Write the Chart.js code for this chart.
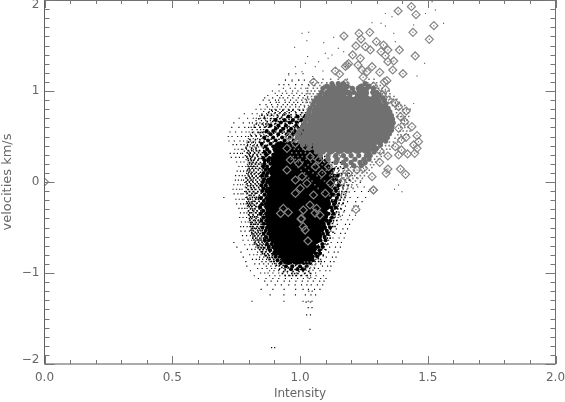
<!DOCTYPE html>
<html><head><meta charset="utf-8">
<style>html,body{margin:0;padding:0;background:#fff}canvas{display:block}</style>
<script src="https://cdn.jsdelivr.net/npm/chart.js@4"></script></head>
<body><canvas id="c" width="565" height="402"></canvas>
<script>
const xTickLabels=['0.0','0.5','1.0','1.5','2.0'];
const yTickLabels=['\u22122','\u22121','0','1','2'];
const xMajor=[0,.5,1,1.5,2];
const xMinor=[.1,.2,.3,.4,.6,.7,.8,.9,1.1,1.2,1.3,1.4,1.6,1.7,1.8,1.9];
const yMajor=[-2,-1,0,1,2];
const yMinor=[-1.9,-1.8,-1.7,-1.6,-1.5,-1.4,-1.3,-1.2,-1.1,-.9,-.8,-.7,-.6,-.5,-.4,-.3,-.2,-.1,.1,.2,.3,.4,.5,.6,.7,.8,.9,1.1,1.2,1.3,1.4,1.5,1.6,1.7,1.8,1.9];
// each row: velocity, then the intensities read at that velocity
const blackCoreRows=[
[.36,.925,.965,1.005,1.045],
[.24,.915,.955,.995,1.035,1.06],
[.12,.91,.95,.99,1.03,1.07,1.09],
[0,.905,.945,.985,1.025,1.065,1.105],
[-.12,.9,.94,.98,1.02,1.06,1.1],
[-.24,.895,.935,.975,1.015,1.055,1.09],
[-.36,.895,.935,.975,1.015,1.055,1.08],
[-.48,.9,.94,.98,1.02,1.06,1.07],
[-.6,.91,.95,.99,1.03,1.055],
[-.72,.925,.965,1.005,1.035],
[-.82,.955,.99,1.02]];
const blackMidRows=[
[.72,.955,.99,1.02],[.68,.905,.94,.972,1.005],[.655,.925,.96,.988,1.02],[.62,.885,.915,.945,.985,1.01],
[.585,.905,.935,.965,.998],[.56,.87,.895,.925,.955,.98,1.012],[.525,.885,.915,.948,.972,1.0],[.49,.86,.895,.93,.96,.99,1.018],
[.455,.875,.905,.94,.975],[.42,.85,.885,.915,.95],[.39,.865,.895],[.36,.872,.9],[.33,.881,.862],[.30,.868,.895],
[.265,.857,.88,1.082],[.235,.876,.862,1.1],[.2,.861,.884,1.088,1.105],[.17,.871,.856,1.112],[.135,.879,.865,1.118,1.129],[.1,.858,.874,1.124],
[.07,.868,.851,1.135,1.148],[.03,.876,.859,1.142],[0,.855,.871,1.128,1.153],[-.035,.866,.849,1.15],[-.07,.873,.858,1.137,1.146],[-.1,.852,.868,1.141],
[-.14,.861,.876,1.132,1.15],[-.175,.847,.869,1.144],[-.21,.873,.858,1.128,1.139],[-.245,.851,.866,1.133],[-.28,.869,.844,1.122,1.14],[-.315,.856,.873,1.126],
[-.35,.846,.867,1.112,1.131],[-.39,.871,.857,1.125],[-.425,.849,.868,1.105,1.118],[-.46,.874,.859,1.112],[-.5,.853,.871,1.098,1.118],[-.535,.866,.881,1.105],
[-.57,.858,.877,1.09,1.108],[-.605,.884,.867,1.096],[-.64,.862,.878,1.08,1.1],[-.68,.889,.871,1.087],[-.715,.878,.896,1.07,1.088],[-.75,.883,.905,1.076],
[-.785,.898,.912,.925,1.062,1.078],[-.82,.905,.922,.94,1.05,1.067],[-.86,.912,.935,.958,1.035,1.05],[-.89,.925,.955,.985,1.015,1.04],[-.925,.945,.97,1.0,1.026],[-.96,.965,.99,1.012]];
const blackDenseRows=[
[.79,.889,.906,.933,.957,.972,.998,1.013],[.76,.877,.903,.922,.941,.958,.984,1.006,1.022],[.74,.94,.965,.985,1.002,1.018],[.71,.861,.912,.928,.949,.966,.981,.995,1.012],[.69,.933,.957,.976,.993,1.01],
[.665,.872,.893,.915,.934,.949,.967,.981,.999,1.015],[.645,.905,.925,.942,.97,.991,1.007],[.61,.867,.885,.902,.921,.94,.957,.974,.993,1.005],[.595,.915,.93,.95,.979,.992,1.012],[.55,.859,.88,.905,.92,.938,.962,.97,.99],
[.535,.875,.897,.931,.955,.98,1.005],[.5,.875,.912,.945,.972,1.004],[.47,.866,.887,.918,.951,.983,1.01],[.44,.895,.925,.96,.99,1.015],[.405,.873,.905,.93,.96],
[.345,.842,.811,.858,.829,.874,.797],[.322,.853,.805,.838,.822,.869,.793],[.303,.817,.846,.801,.861,.832,.877],[.281,.835,.792,.866,.814,.851,.805],[.258,.807,.848,.824,.871,.796,.839],[.239,.856,.819,.798,.867,.835,.81],
[.214,.829,.803,.874,.845,.816,.859],[.197,.811,.862,.838,.802,.851,.825],[.173,.849,.819,.868,.808,.833,.797],[.151,.826,.856,.801,.841,.873,.814],[.131,.804,.837,.864,.819,.795,.852],[.108,.846,.812,.829,.872,.8,.858],
[.087,.821,.797,.852,.837,.809,.868],[.064,.842,.813,.875,.801,.858,.828],[.044,.806,.834,.791,.863,.818,.849],[.021,.853,.827,.796,.842,.87,.811],[.003,.815,.789,.859,.833,.802,.848],[-.019,.838,.807,.868,.824,.793,.855],
[-.041,.796,.845,.817,.862,.831,.806],[-.063,.851,.821,.79,.873,.838,.809],[-.082,.813,.842,.798,.866,.827,.856],[-.106,.835,.803,.853,.819,.789,.87],[-.124,.848,.812,.831,.794,.864,.825],[-.147,.801,.857,.82,.841,.872,.808],
[-.169,.829,.792,.852,.814,.869,.838],[-.188,.847,.805,.826,.861,.796,.837],[-.211,.816,.855,.799,.84,.871,.823],[-.232,.803,.832,.864,.812,.849,.794],[-.254,.842,.821,.807,.873,.855,.798],[-.273,.811,.861,.828,.837,.801,.847],
[-.296,.851,.806,.824,.868,.815,.84],[-.318,.833,.798,.859,.819,.847,.873],[-.337,.809,.841,.826,.866,.803,.853],[-.359,.857,.816,.835,.799,.871,.844],[-.382,.823,.806,.852,.862,.831,.814],[-.401,.846,.811,.873,.828,.802,.858],
[-.424,.818,.836,.804,.864,.849,.825],[-.446,.855,.813,.829,.871,.806,.842],[-.465,.826,.848,.809,.865,.818,.836],[-.488,.807,.858,.832,.875,.815,.845],[-.509,.839,.821,.813,.867,.853,.829],[-.531,.852,.816,.844,.808,.877,.834],
[-.553,.825,.865,.811,.837,.853,.879],[-.572,.842,.819,.871,.831,.858,.812],[-.594,.816,.849,.835,.881,.823,.862],[-.617,.857,.827,.843,.872,.815,.886],[-.637,.833,.866,.82,.848,.879,.839],[-.659,.851,.825,.871,.838,.889,.862],
[-.681,.829,.856,.884,.843,.869,.822],[-.701,.866,.839,.88,.852,.894,.833],[-.724,.848,.874,.862,.836,.891,.857],[-.745,.869,.843,.886,.855,.902,.877],[-.766,.853,.881,.867,.912,.896,.848],[-.788,.874,.861,.905,.889,.853,.918],
[-.809,.892,.868,.921,.879,.907,.864],[-.832,.881,.903,.873,.928,.916,.893],[-.853,.897,.879,.936,.912,.948,.924],[-.874,.909,.888,.926,.957,.941,.899],[-.895,.901,.938,.963,.918,.976,.951],[-.917,.92,.947,.908,.983,.966,.934],
[-.939,.929,.955,.991,.972,.943,1.007],[-.961,.942,.919,.981,1.003,.965,1.021],[-.983,.951,.973,1.012,.936,.996,1.034],[-1.005,.968,.931,.992,1.018,.979,1.042],[-1.028,.957,.986,1.006,1.028,.971,.942],
[.345,1.062,1.071],[.281,1.083,1.097,1.112],[.214,1.112,1.126,1.141,1.159],[.151,1.135,1.149,1.171],[.087,1.153,1.164,1.184],[.021,1.158,1.175,1.193],[-.041,1.157,1.171,1.188],[-.106,1.153,1.164,1.182],[-.169,1.148,1.162,1.176],[-.232,1.142,1.153,1.169],
[-.296,1.136,1.148,1.161],[-.359,1.124,1.137,1.152],[-.424,1.119,1.131,1.144],[-.488,1.113,1.128,1.137],[-.553,1.103,1.114,1.129],[-.617,1.094,1.107,1.118],[-.681,1.086,1.098,1.109],[-.745,1.074,1.085,1.101],[-.809,1.063,1.074,1.091],[-.874,1.047,1.059,1.073,1.083],
[-.065,1.148,1.168],[-.138,1.146,1.171],[-.201,1.139,1.157],[-.264,1.131,1.149],[-.327,1.128,1.143],[-.392,1.118,1.134],[-.456,1.109,1.127],[-.521,1.101,1.119],[-.585,1.096,1.112],[-.649,1.084,1.103],[-.713,1.076,1.094],[-.777,1.068,1.083],[-.842,1.052,1.072],
[.735,.851,.873,.889,.911,.933],[.695,.839,.863,.885,.898,.921],[.637,.829,.852,.877,.866,.901],[.602,.821,.843,.861,.879],[.543,.814,.836,.853,.866,.844],[.508,.809,.828,.847,.868],[.467,.804,.826,.843,.861],[.438,.799,.817,.841,.859],[.398,.794,.816,.832,.849],[.372,.789,.811,.828,.857]];
const blackFineRows=[
[1.19,.956,.984,1.012],[1.12,.943,.969,.995,1.017],[1.07,.918,.937,.956,.983,1.008,1.033],[1.03,.935,.962,.981,1.004,1.023],
[1.0,.892,.918,.944,.971,.992,1.028],[.975,.903,.931,.948,.969,.987,1.008,1.031],[.95,.874,.911,.927,.957,.976,.999,1.018],[.925,.862,.893,.921,.934,.952,.972,.993,1.012,1.029],
[.9,.856,.879,.904,.916,.941,.963,.985,1.007,1.026],[.875,.884,.907,.918,.942,.958,.976,.991,1.011,1.028],[.85,.843,.867,.889,.913,.934,.951,.969,.983,1.003],[.825,.872,.893,.911,.927,.944,.961,.983,.997,1.018],
[.8,.828,.847,.863,.881,.902,.921,.937,.954,.974,.992],[.775,.858,.879,.892,.914,.928,.949,.966,.981],[.75,.782,.813,.832,.851,.869,.887,.899,.918,.936,.946],[.725,.842,.861,.883,.897,.916,.931],
[.7,.762,.795,.817,.829,.846,.857,.872,.889,.908,.924],[.675,.828,.849,.866,.884,.897],[.65,.741,.778,.802,.814,.831,.843,.856,.871,.887],[.625,.821,.838,.857,.871],
[.6,.733,.761,.784,.799,.809,.826,.844,.863,.876],[.575,.813,.832,.846,.858],[.55,.726,.748,.772,.789,.801,.819,.836,.851,.867],[.525,.806,.824,.843,.858],
[.5,.719,.734,.756,.771,.787,.798,.812,.829,.846],[.475,.798,.817,.834,.851],[.45,.722,.743,.765,.779,.793,.807,.824,.843,.859],[.43,.793,.811,.826,.847],
[.41,.738,.752,.769,.781,.795,.806,.821,.833],[.385,.788,.804,.823,.838,.852],[.36,.745,.758,.771,.776,.791,.809,.818,.827],[.34,.782,.801,.818,.836],
[.315,.727,.742,.755,.768,.775,.797,.806,.823],[.29,.786,.803,.815,.832],[.27,.731,.749,.763,.777,.792,.811,.824],[.245,.789,.806,.822,.838],
[.22,.752,.768,.781,.797,.809,.817,.831,1.152,1.171],[.195,.794,.812,.827,.843,1.138,1.162,1.185],[.17,.761,.774,.788,.801,.813,.824,1.142,1.158,1.179,1.203],[.145,.797,.811,.831,.846,1.147,1.166,1.188],
[.12,.754,.767,.779,.792,.804,.819,1.151,1.169,1.183,1.211],[.095,.791,.808,.824,.841,1.161,1.176,1.193],[.07,.748,.762,.774,.785,.797,.813,.829,1.148,1.163,1.186,1.204],[.045,.787,.803,.821,.836,1.172,1.191,1.222],
[.02,.747,.759,.771,.779,.794,.806,.817,1.143,1.161,1.179,1.196],[-.005,.784,.802,.817,.833,1.183,1.207,1.236],[-.03,.741,.756,.767,.776,.789,.811,.827,1.139,1.157,1.172,1.191],[-.055,.786,.806,.819,.838,1.166,1.201,1.226,1.251],
[-.08,.738,.752,.764,.773,.795,.809,.823,1.133,1.152,1.169,1.184],[-.105,.783,.801,.816,.834,1.178,1.214,1.241,1.268],[-.13,.742,.757,.769,.777,.792,.812,.825,1.128,1.149,1.163,1.179],[-.17,.702,.788,.804,.822,.837,1.196,1.226,1.257],
[-.19,.749,.762,.774,.781,.796,.813,.828,1.122,1.141,1.158,1.171],[-.215,.791,.809,.824,.841,1.186,1.218,1.243],[-.24,.752,.768,.779,.789,.801,.816,.829,1.117,1.136,1.152,1.168],[-.265,.794,.813,.827,.839,1.178,1.211,1.228],
[-.29,.761,.773,.784,.793,.808,.823,1.113,1.129,1.147,1.159],[-.315,.799,.814,.831,.846,1.174,1.204,1.231],[-.34,.767,.781,.792,.803,.816,.829,1.109,1.126,1.141,1.153],[-.365,.802,.818,.834,.849,1.166,1.194,1.217],
[-.39,.764,.777,.791,.806,.821,.836,1.104,1.121,1.137,1.149],[-.415,.804,.821,.837,.852,1.161,1.187,1.206],[-.44,.771,.786,.797,.811,.824,.839,1.102,1.117,1.131],[-.465,.807,.823,.836,.854,1.146,1.178,1.194],
[-.49,.768,.779,.793,.804,.817,.834,.849,1.097,1.113,1.128],[-.515,.809,.826,.842,.856,1.142,1.168,1.186],[-.54,.769,.785,.802,.819,.836,.847,1.091,1.108,1.121],[-.565,.813,.829,.846,.861,1.136,1.159,1.177],
[-.59,.775,.791,.806,.823,.838,.851,1.084,1.102,1.117],[-.615,.816,.833,.849,.864,1.129,1.153,1.173],[-.64,.777,.797,.811,.827,.844,.857,1.079,1.097,1.112],[-.665,.741,.821,.838,.853,.869,1.122,1.147,1.162],
[-.69,.784,.803,.816,.834,.849,.862,1.072,1.089,1.104],[-.715,.753,.827,.844,.858,.874,1.116,1.139,1.158],[-.74,.794,.811,.824,.841,.856,.87,1.064,1.081,1.097],[-.77,.769,.834,.851,.864,.881,1.112,1.134,1.149],
[-.8,.803,.819,.832,.847,.861,.877,1.058,1.073,1.091],[-.825,.778,.842,.858,.873,.889,1.103,1.127,1.141],[-.85,.814,.829,.841,.854,.869,.884,.897,1.046,1.062,1.081],[-.875,.788,.851,.867,.883,.896,1.096,1.119,1.133],
[-.9,.823,.841,.858,.876,.892,.907,.923,1.028,1.043,1.062,1.081],[-.925,.792,.868,.886,.904,.918,1.088,1.108,1.121],[-.95,.834,.852,.871,.889,.902,.921,.937,.953,1.006,1.021,1.038,1.057,1.072],[-.975,.806,.881,.898,.916,.942,1.078,1.101,1.117],
[-1.0,.846,.862,.875,.894,.917,.934,.951,.969,.987,1.021,1.038,1.061],[-1.03,.821,.881,.902,.921,.942,.961,.983,1.002,1.024,1.041,1.063,1.092],[-1.06,.837,.867,.894,.917,.943,.967,.991,1.013,1.036,1.059,1.081,1.102],[-1.09,.862,.887,.912,.938,.959,.984,1.009,1.031,1.052,1.077,1.094],
[-1.13,.872,.903,.927,.956,.981,1.006,1.027,1.044,1.068,1.089],[-1.18,.848,.894,.938,.983,1.012,1.033,1.057,1.078],[-1.24,.883,.937,.982,1.021,1.043,1.061],[-1.31,.812,.937,1.012,1.032,1.047],
[-1.38,1.032,1.047],[-1.46,1.026,1.041],[-1.62,1.039],[-1.82,.889,.901]];
const blackOutliers=[[1.008,1.634],[1.034,1.645],[1.027,1.553],[.979,1.48],[1.093,1.531],[1.132,1.59],[1.099,1.414],[1.125,1.396],[1.073,1.322],[1.171,1.432],[1.06,1.267],[1.021,1.304],[.982,1.267],[1.008,1.212],[.956,1.176],[.969,1.103],[.995,1.121],[.943,1.121],[1.334,1.853],[1.36,1.817],[1.282,1.751],[1.317,1.744],[1.334,1.714],[1.367,1.634],[1.373,1.542],[1.445,1.725],[1.491,1.853],[1.53,1.89],[1.562,1.744],[1.517,1.982],[1.488,1.304],[1.458,1.165],[1.445,.864],[1.37,-.08],[1.399,-.106],[1.386,-.033],[1.11,1.36],[1.14,1.25],[1.09,1.22],[1.05,1.16],[1.03,1.38],[1.15,1.47]];
const grayCoreRows=[
[.98,1.125,1.16,1.245],
[.88,1.085,1.12,1.155,1.19,1.225,1.26,1.29],
[.78,1.07,1.105,1.14,1.175,1.21,1.245,1.28,1.31],
[.68,1.055,1.09,1.125,1.16,1.195,1.23,1.265,1.3,1.33],
[.58,1.04,1.075,1.11,1.145,1.18,1.215,1.25,1.285,1.32],
[.48,1.03,1.065,1.1,1.135,1.17,1.205,1.24,1.275,1.305],
[.38,1.085,1.12,1.155,1.19,1.225,1.26]];
const grayMidRows=[
[1.08,1.125,1.15,1.17,1.255],[1.055,1.105,1.13,1.16,1.185,1.24,1.27],[1.03,1.09,1.115,1.145,1.178,1.205,1.228,1.262,1.287],[.985,1.085,1.105,1.19,1.21,1.285,1.3],[.955,1.078,1.1,1.195,1.225,1.29,1.31],[.925,1.065,1.09,1.125,1.305,1.325],
[.89,1.055,1.075,1.31,1.33],[.85,1.05,1.07,1.315,1.335],[.81,1.04,1.062,1.33,1.345],[.77,1.035,1.055,1.335,1.352],[.73,1.03,1.048,1.34,1.358],[.69,1.025,1.042,1.35,1.362],
[.65,1.02,1.04,1.35,1.365],[.61,1.012,1.03,1.345,1.36],[.57,1.0,1.024,1.34,1.358],[.53,.995,1.016,1.335,1.35],[.49,.99,1.01,1.325,1.342],[.45,1.002,1.02,1.315,1.335],
[.41,1.01,1.04,1.06,1.29,1.315],[.37,1.035,1.06,1.285,1.3],[.33,1.065,1.09,1.12,1.27,1.29],[.29,1.08,1.11,1.14,1.17,1.2,1.23,1.26,1.275],[.25,1.11,1.145,1.18,1.215,1.25,1.27],[.215,1.14,1.17,1.2,1.235,1.255],[.18,1.18,1.21,1.24]];
const graySpeckRows=[
[1.13,1.055,1.09,1.12,1.15,1.185,1.27,1.29],[1.09,1.048,1.072,1.085,1.105,1.125,1.145,1.165,1.185,1.25,1.265,1.285,1.3],[1.06,1.035,1.058,1.078,1.094,1.113,1.131,1.152,1.172,1.229,1.246,1.272,1.295,1.314],
[1.03,1.03,1.052,1.068,1.084,1.101,1.117,1.134,1.151,1.168,1.182,1.226,1.242,1.258,1.274,1.291,1.308,1.322],[1.0,1.03,1.044,1.058,1.074,1.09,1.287,1.302,1.318,1.334,1.349],[.97,1.025,1.039,1.052,1.067,1.305,1.322,1.337,1.352],
[.94,1.03,1.045,1.057,1.322,1.338,1.352,1.368],[.91,1.021,1.034,1.046,1.338,1.351,1.365,1.379],[.875,1.024,1.039,1.345,1.356,1.373,1.389],[.84,1.017,1.033,1.362,1.379,1.395,1.41],[.8,1.012,1.028,1.374,1.389,1.403,1.418,1.431],[.76,1.01,1.024,1.378,1.393,1.408,1.424],
[.72,1.006,1.021,1.383,1.398,1.412,1.426],[.68,.997,1.014,1.396,1.408,1.419],[.64,.992,1.007,1.394,1.407,1.421],[.6,.986,1.003,1.395,1.41,1.423],[.56,.974,.989,1.392,1.404,1.418,1.431],[.52,.962,.978,.982,1.383,1.395,1.41,1.424],
[.48,.958,.971,.983,1.372,1.388,1.401],[.44,.951,.966,.979,.993,1.35,1.366,1.382],[.4,.956,.972,.987,1.003,1.014,1.025,1.335,1.349,1.364],[.36,.961,.978,.994,1.012,1.029,1.046,1.321,1.339,1.352],
[.32,.968,.986,1.003,1.021,1.038,1.057,1.312,1.328],[.28,.974,.992,1.009,1.026,1.047,1.069,1.087,1.301,1.318],[.25,.966,.982,1.001,1.024,1.053,1.078,1.102,1.292,1.307],[.22,.978,.993,1.012,1.043,1.071,1.096,1.117,1.282,1.296],
[.19,.985,1.006,1.032,1.058,1.087,1.124,1.276,1.289],[.16,.993,1.021,1.046,1.076,1.112,1.138,1.159,1.176,1.198,1.217,1.237,1.259,1.281],[.13,1.004,1.034,1.063,1.103,1.131,1.153,1.174,1.191,1.213,1.232,1.253,1.271],
[.1,1.018,1.051,1.088,1.124,1.146,1.168,1.187,1.203,1.224,1.243,1.262],[.07,1.026,1.067,1.116,1.137,1.161,1.179,1.196,1.214,1.236,1.252],[.04,1.034,1.082,1.124,1.145,1.166,1.184,1.207,1.226,1.244],[.01,1.047,1.096,1.138,1.159,1.176,1.198,1.217,1.237],
[-.03,1.058,1.112,1.141,1.162,1.184,1.203,1.222],[-.07,1.071,1.124,1.146,1.168,1.187,1.208],[-.11,1.091,1.129,1.153,1.173,1.193],[-.15,1.116,1.137,1.161,1.179],[-.2,1.13,1.151,1.172],[-.25,1.146,1.163],[-.33,1.152,1.171],[-.38,1.138,1.158],
[-.88,1.018,1.03,1.044],[-.91,1.021,1.034,1.047,1.059],[-.94,1.015,1.028,1.041,1.056],[-.97,1.024,1.037,1.051],[-1.05,1.03,1.042],[-1.2,1.034,1.048],[-1.32,1.024,1.041]];
const diamonds=[[0,0],[1.436,1.927],[1.384,1.879],[1.454,1.839],[1.524,1.718],[1.442,1.645],[1.172,1.604],[1.231,1.634],[1.273,1.645],[1.506,1.568],[1.239,1.571],[1.299,1.542],[1.219,1.495],[1.256,1.487],[1.275,1.451],[1.327,1.505],[1.344,1.451],[1.389,1.451],[1.317,1.432],[1.451,1.385],[1.206,1.396],[1.236,1.359],[1.334,1.388],[1.344,1.322],[1.367,1.33],[1.184,1.286],[1.19,1.3],[1.178,1.27],[1.227,1.286],[1.282,1.267],[1.363,1.231],[1.262,1.212],[1.312,1.205],[1.403,1.19],[1.138,1.22],[1.155,1.187],[1.243,1.231],[1.247,1.15],[1.34,1.114],[1.33,1.1],[1.053,1.099],[1.177,1.084],[1.197,1.011],[1.288,1.055],[1.334,1.018],[1.301,.993],[1.321,.956],[1.347,.901],[1.373,.864],[1.386,.828],[1.416,.78],[1.393,.718],[1.41,.663],[1.438,.608],[1.386,.59],[1.458,.509],[1.415,.491],[1.397,.462],[1.464,.443],[1.445,.407],[1.458,.37],[1.373,.388],[1.397,.352],[1.386,.297],[1.421,.308],[1.449,.315],[1.314,.341],[1.344,.286],[1.312,.216],[1.344,.143],[1.337,.095],[1.393,.143],[1.413,.084],[1.288,-.088],[1.282,.059],
[.949,.132],[.982,-.125],[1.001,-.07],[1.053,-.143],[1.086,.095],[1.06,.168],[1.099,-.125],[1.027,-.015],[.982,.022],[1.008,.059],[.962,.242],[.995,.205],[1.04,.278],[1.073,.242],[1.112,.168],[1.145,.278],[1.164,.004],[1.119,-.015],[1.19,.095],[1.223,.132],[1.249,.15],[1.021,.388],[.982,.425],[.949,.37],[1.06,.462],[1.001,.535],[.956,.498],[1.099,.388],[1.047,.571],[.935,-.29],[.954,-.334],[.924,-.345],[1.013,-.308],[1.039,-.253],[1.065,-.29],[1.078,-.363],[1.006,-.4],[1.013,-.491],[1.02,-.528],[1.219,-.301],[1.287,-.088],[1.031,-.648],[1.004,-.407],[1.059,-.341]];

const fromRows=rows=>rows.flatMap(r=>r.slice(1).map(x=>({x,y:r[0]})));
const fromPairs=p=>p.map(([x,y])=>({x,y}));
const frame={id:'frame',
 afterLayout(chart){
  const s=chart.scales.y,a=chart.chartArea;
  a.top=0;a.height=a.bottom;
  s.top=0;s.height=s.bottom;
  s._margins={left:0,top:0,right:0,bottom:0};
  s.configure();
  s._labelItems=null;
  const items=s.getLabelItems(a);
  for(const it of items){
   if(it.label==='2')it.options.translation[1]+=5;
   if(it.label==='\u22122')it.options.translation[1]-=4;
  }
 },
 afterDraw(chart){
  const {ctx,chartArea:a,scales:{x,y}}=chart;
  const seg=(x1,y1,x2,y2,col,w)=>{ctx.strokeStyle=col;ctx.lineWidth=w;ctx.beginPath();ctx.moveTo(x1,y1);ctx.lineTo(x2,y2);ctx.stroke();};
  ctx.save();
  const col='#777';
  seg(a.left,a.top,a.left,a.bottom,'#5f5f5f',1);
  seg(a.right,a.top,a.right,a.bottom,'#707070',1);
  seg(a.left,a.top+.5,a.right,a.top+.5,'#707070',1);
  seg(a.left,a.bottom,a.right,a.bottom,'#8f8f8f',1.6);
  const xt=(v,l)=>{const p=Math.round(x.getPixelForValue(v))+.5;seg(p,a.bottom,p,a.bottom-l,col,1);seg(p,a.top,p,a.top+l,col,1);};
  const yt=(v,l)=>{const p=Math.round(y.getPixelForValue(v))+.5;seg(a.left,p,a.left+l,p,col,1);seg(a.right,p,a.right-l,p,col,1);};
  xMajor.forEach(v=>xt(v,8));xMinor.forEach(v=>xt(v,4));
  yMajor.forEach(v=>yt(v,10));yMinor.forEach(v=>yt(v,5));
  ctx.restore();
 }};
const dot=(data,color,r,order)=>({data,pointStyle:'rect',pointRadius:r,pointBorderWidth:0,pointBackgroundColor:color,showLine:false,order});
const blob=(data,color,r,order)=>({data,pointStyle:'circle',pointRadius:r,pointBorderWidth:0,pointBackgroundColor:color,showLine:false,order});
new Chart(document.getElementById('c'),{type:'scatter',
 data:{datasets:[
  blob(fromRows(blackCoreRows),'#000',8,11),
  blob(fromRows(blackMidRows),'#000',2,10),
  dot(fromRows(blackDenseRows),'#000',1.1,9),
  dot(fromRows(blackFineRows),'#000',.8,8),
  dot(fromPairs(blackOutliers),'#222',.7,7),
  dot(fromPairs(diamonds),'#333',.7,6),
  {data:fromPairs(diamonds),pointStyle:'rectRot',pointRadius:4,pointBorderWidth:1.2,pointBorderColor:'#858585',pointBackgroundColor:'rgba(0,0,0,0)',showLine:false,order:5},
  dot(fromRows(graySpeckRows),'#727272',1.1,4),
  blob(fromRows(grayMidRows),'#707070',2.6,3),
  blob(fromRows(grayCoreRows),'#707070',6.5,2)
 ]},
 options:{responsive:false,animation:false,
  layout:{padding:{top:0,right:9.5,left:0,bottom:0}},
  plugins:{legend:{display:false},tooltip:{enabled:false}},
  scales:{
   x:{type:'linear',min:0,max:2,
    afterFit(s){s.height=38;s.paddingLeft=0;s.paddingRight=0;},
    grid:{display:false,drawTicks:false},border:{display:false},
    ticks:{stepSize:.5,autoSkip:false,maxRotation:0,padding:7,color:'#666',font:{family:'"DejaVu Sans"',size:12},
     callback:v=>{const i=xMajor.indexOf(v);return i>=0?xTickLabels[i]:'';}},
    title:{display:true,text:'Intensity',color:'#666',font:{family:'"DejaVu Sans"',size:12},padding:{top:0,bottom:1}}},
   y:{type:'linear',min:-2,max:2,
    afterFit(s){s.width=44.5;s.paddingTop=0;s.paddingBottom=0;},
    grid:{display:false,drawTicks:false},border:{display:false},
    ticks:{stepSize:1,autoSkip:false,padding:5,color:'#666',font:{family:'"DejaVu Sans"',size:12,lineHeight:.01},
     callback:v=>{const i=yMajor.indexOf(v);return i>=0?yTickLabels[i]:'';}},
    title:{display:true,text:'velocities km/s',color:'#666',font:{family:'"DejaVu Sans"',size:13},padding:{top:0,bottom:0}}}
  }},
 plugins:[frame]});
</script></body></html>
